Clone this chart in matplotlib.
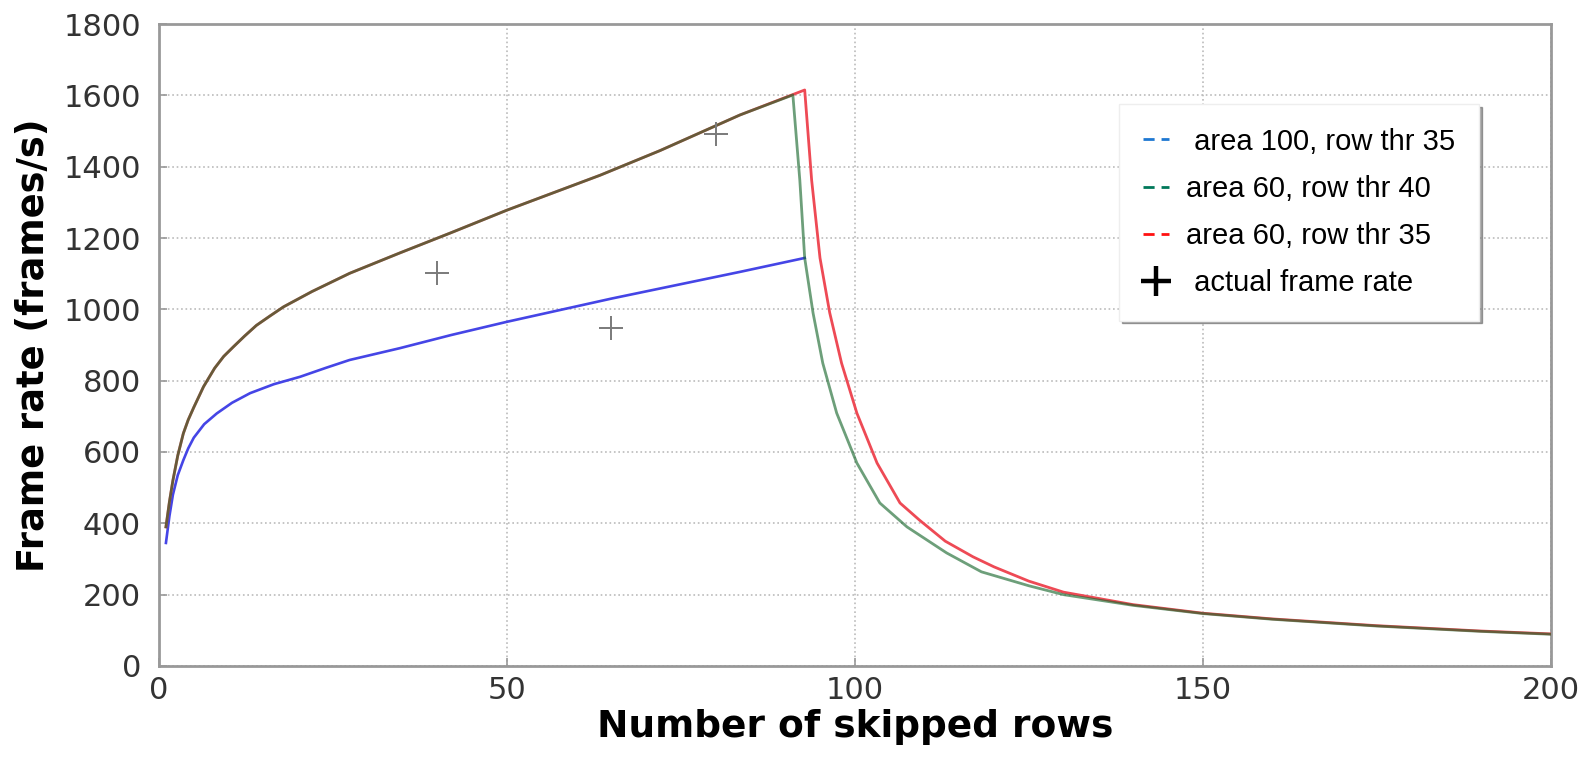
import matplotlib
matplotlib.use("Agg")
from matplotlib import pyplot as plt
from matplotlib.lines import Line2D

# values
red_x = [1, 1.5, 2, 2.7, 3.5, 4.2, 5, 6.4, 8, 9.3, 10.7, 12.3, 14, 16, 17.9, 22, 27.4, 34.6,
         42, 50, 63.4, 72, 83.5, 92.8,
         93.8, 95.0, 96.4, 98.1, 100.3, 103.2, 106.5, 109.3, 113, 117, 120, 125, 130, 140,
         150, 160, 175, 190, 200]
red_y = [390, 460, 520, 590, 652, 690, 725, 783, 835, 868, 895, 925, 955, 982, 1007, 1050, 1101, 1158,
         1215, 1278, 1376, 1445, 1545, 1615,
         1362, 1144, 990, 849, 709, 569, 457, 409, 350, 306, 278, 238, 207, 172,
         148, 132, 113, 98, 90]

green_x = [1, 1.5, 2, 2.7, 3.5, 4.2, 5, 6.4, 8, 9.3, 10.7, 12.3, 14, 16, 17.9, 22, 27.4, 34.6,
           42, 50, 63.4, 72, 83.5, 91.1,
           92.1, 92.8, 94.0, 95.4, 97.4, 100.3, 103.6, 107.5, 113.2, 118.2, 125, 130, 140,
           150, 160, 175, 190, 200]
green_y = [390, 460, 520, 590, 652, 690, 725, 783, 835, 868, 895, 925, 955, 982, 1007, 1050, 1101, 1158,
           1215, 1278, 1376, 1445, 1545, 1601,
           1362, 1144, 990, 849, 709, 569, 457, 390, 317, 264, 225, 200, 170,
           147, 131, 112, 97, 89]

blue_x = [1, 1.5, 2, 2.7, 3.5, 4.2, 5, 6.5, 8.3, 10.5, 13.1, 16.5, 20.3, 24, 27.4, 34.6, 42, 50,
          65, 83.5, 92.8]
blue_y = [345, 420, 480, 535, 577, 610, 640, 678, 708, 738, 765, 790, 811, 836, 858, 891, 928, 965,
          1030, 1105, 1144]

actual_x = [40, 65, 80]
actual_y = [1101, 947, 1493]

x_ticks = [0, 50, 100, 150, 200]
y_ticks = [0, 200, 400, 600, 800, 1000, 1200, 1400, 1600, 1800]

labels = [" area 100, row thr 35", "area 60, row thr 40", "area 60, row thr 35", " actual frame rate"]


def main():
    fig = plt.figure(figsize=(15.85, 7.67), dpi=100)
    ax = fig.add_axes([0.1003, 0.1317, 0.878, 0.837])

    ax.plot(blue_x, blue_y, color='#4545e6', lw=1.9, zorder=3)
    ax.plot(red_x, red_y, color='#ee4a55', lw=2.0, zorder=4)
    ax.plot(green_x, green_y, color='#146428', lw=2.0, alpha=0.62, zorder=5)
    ax.plot(actual_x, actual_y, '+', color='#7a7a7a', ms=17, mew=1.4, zorder=6)

    ax.set_xlim(0, 200)
    ax.set_ylim(0, 1800)
    ax.set_xticks(x_ticks)
    ax.set_yticks(y_ticks)
    ax.grid(True, color='#bbbbbb', linestyle=':', lw=1.2)
    ax.set_axisbelow(True)

    for s in ax.spines.values():
        s.set_color('#999999')
        s.set_linewidth(2)

    ax.tick_params(direction='in', length=6, color='#999999', width=1.2)
    ax.tick_params(axis='y', pad=13, labelsize=22, labelcolor='#333333')
    ax.tick_params(axis='x', pad=7, labelsize=22, labelcolor='#333333')

    ax.set_xlabel("Number of skipped rows", fontsize=27, fontweight='bold',
                  family='DejaVu Sans', labelpad=3)
    ax.set_ylabel("Frame rate (frames/s)", fontsize=26.5, fontweight='bold',
                  family='DejaVu Sans', labelpad=8)

    handles = [
        Line2D([], [], color='#1e78d2', lw=2, ls=(0, (4, 2.5))),
        Line2D([], [], color='#00785a', lw=2, ls=(0, (4, 2.5))),
        Line2D([], [], color='#ff1010', lw=2, ls=(0, (4, 2.5))),
        Line2D([], [], ls='none', marker='+', color='black', ms=22, mew=3.2),
    ]
    leg = ax.legend(handles, labels, loc='upper left', bbox_to_anchor=(0.690, 0.875),
                    borderaxespad=0,
                    prop={'family': 'Liberation Sans', 'size': 21}, handlelength=0.9,
                    handletextpad=0.6, labelspacing=0.66, borderpad=0.8,
                    fancybox=False, shadow=True, framealpha=1, edgecolor='#eeeeee')
    leg.get_frame().set_linewidth(1)

    plt.savefig('out.png', dpi=100)


if __name__ == "__main__":
    main()
